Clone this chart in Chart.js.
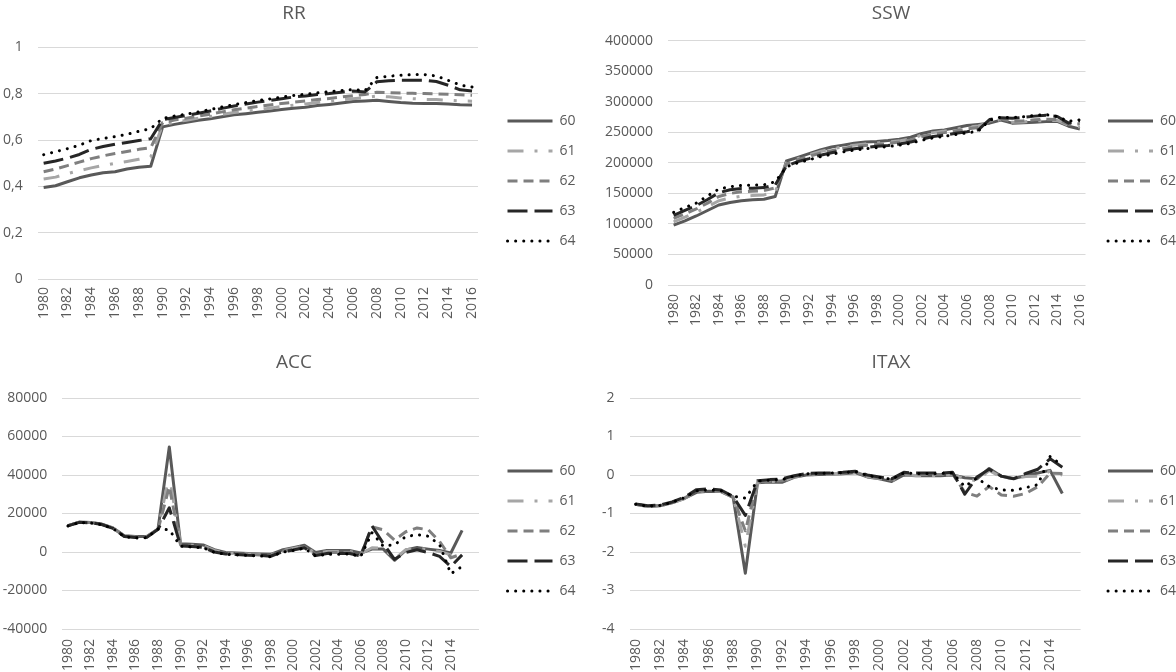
<!DOCTYPE html>
<html>
<head>
<meta charset="utf-8">
<script src="https://cdn.jsdelivr.net/npm/chart.js@4.4.1/dist/chart.umd.min.js"></script>
<style>
  html, body { margin: 0; padding: 0; background: #fff; overflow: hidden; }
  #page { position: relative; width: 1176px; height: 672px; overflow: hidden; background: #fff; }
  .panel { position: absolute; }
</style>
</head>
<body>
<div id="page">
  <div class="panel" style="left:0;top:0;width:588px;height:336px"><canvas id="rr"></canvas></div>
  <div class="panel" style="left:590px;top:0;width:602px;height:336px"><canvas id="ssw"></canvas></div>
  <div class="panel" style="left:0;top:336px;width:588px;height:336px"><canvas id="acc"></canvas></div>
  <div class="panel" style="left:590px;top:336px;width:602px;height:336px"><canvas id="itax"></canvas></div>
</div>
<script>
// categories
const years = ['1980','1981','1982','1983','1984','1985','1986','1987','1988','1989',
  '1990','1991','1992','1993','1994','1995','1996','1997','1998','1999',
  '2000','2001','2002','2003','2004','2005','2006','2007','2008','2009',
  '2010','2011','2012','2013','2014','2015','2016'];
// bottom charts: last category has no label
const yearsBottom = ['1980','1981','1982','1983','1984','1985','1986','1987','1988','1989',
  '1990','1991','1992','1993','1994','1995','1996','1997','1998','1999',
  '2000','2001','2002','2003','2004','2005','2006','2007','2008','2009',
  '2010','2011','2012','2013','2014','2015',''];
const seriesNames = ['60', '61', '62', '63', '64'];

// RR
const rr60 = [0.395,0.403,0.420,0.437,0.449,0.459,0.463,0.475,0.483,0.487,
  0.657,0.668,0.677,0.686,0.692,0.701,0.709,0.714,0.720,0.726,
  0.732,0.738,0.742,0.749,0.754,0.760,0.767,0.769,0.772,0.767,
  0.762,0.759,0.758,0.758,0.756,0.753,0.752];
const rr61 = [0.432,0.440,0.455,0.468,0.480,0.490,0.500,0.508,0.517,0.527,
  0.666,0.677,0.686,0.695,0.702,0.711,0.719,0.725,0.731,0.738,
  0.745,0.751,0.756,0.762,0.767,0.773,0.779,0.784,0.790,0.787,
  0.782,0.779,0.776,0.775,0.772,0.769,0.768];
const rr62 = [0.463,0.475,0.490,0.505,0.520,0.532,0.542,0.551,0.560,0.567,
  0.676,0.687,0.695,0.704,0.712,0.722,0.731,0.738,0.745,0.752,
  0.758,0.764,0.769,0.775,0.780,0.786,0.792,0.797,0.807,0.805,
  0.803,0.802,0.801,0.800,0.798,0.796,0.794];
const rr63 = [0.500,0.510,0.522,0.538,0.560,0.572,0.582,0.590,0.598,0.606,
  0.688,0.698,0.706,0.716,0.726,0.737,0.747,0.756,0.764,0.771,
  0.779,0.786,0.791,0.797,0.801,0.807,0.812,0.808,0.852,0.856,
  0.859,0.859,0.859,0.853,0.837,0.817,0.812];
const rr64 = [0.537,0.550,0.563,0.578,0.598,0.607,0.615,0.625,0.638,0.650,
  0.694,0.704,0.712,0.722,0.732,0.743,0.753,0.762,0.771,0.778,
  0.786,0.793,0.798,0.804,0.809,0.814,0.818,0.814,0.870,0.876,
  0.880,0.883,0.883,0.877,0.858,0.838,0.829];

// SSW
const ssw60 = [98000,105000,113000,122000,131000,135000,138000,139500,140500,145000,
  203000,209000,215000,221000,226000,229000,232000,234000,235000,236500,
  238500,242000,248000,252000,254000,257500,261000,263000,265000,270000,
  265000,265500,266500,267500,268000,260000,255500];
const ssw61 = [103500,111000,119000,128000,138000,142500,145500,146500,147500,152000,
  200500,207000,213000,218500,223000,226000,229000,231000,232500,234000,
  236000,239500,245500,249500,252000,255000,258500,260500,266500,271000,
  266500,267000,268500,269500,269500,261500,258500];
const ssw62 = [109000,116500,124500,134000,145000,150000,152500,153500,154500,159000,
  198000,205000,210500,216000,220000,223500,226500,228500,230000,231500,
  234000,237500,243000,247000,249500,252500,255500,258000,268000,272000,
  268000,269000,270500,271500,271000,263000,264000];
const ssw63 = [114000,122000,130000,140000,151000,156000,158000,158500,159500,164000,
  195000,202000,207000,212500,216500,220000,223000,225000,227000,228500,
  231000,234000,239000,243000,245500,248500,251000,254000,271000,274000,
  273000,274500,276500,278000,276000,265000,269000];
const ssw64 = [119000,127000,134000,146000,157000,161000,163000,163500,164000,169000,
  193500,200000,205000,210000,214000,218000,221000,223000,225000,226500,
  229000,232000,237000,241000,243500,246500,249000,252000,270000,275000,
  274000,275500,277500,279000,276000,268000,270500];

// ACC (1980-2015)
const acc60 = [13700,15500,15300,14500,12500,8500,8000,8000,12000,54600,
  4300,4000,3700,1200,-300,-500,-800,-1000,-1200,1000,
  2200,3500,-300,800,800,800,-500,1500,1500,-4300,
  1000,2300,1500,800,-500,11200];
const acc61 = [13700,15500,15300,14500,12500,8400,7900,7900,11800,40000,
  4000,3500,3200,800,-500,-700,-1000,-1200,-1500,700,
  1800,3000,-800,300,300,300,-1000,2200,2000,-3600,
  1200,2000,1200,300,-1500,-500];
const acc62 = [13700,15500,15300,14400,12400,8300,7800,7800,11600,34000,
  3600,3000,2700,300,-800,-1000,-1300,-1500,-1800,300,
  1400,2600,-1300,-200,-200,-300,-1500,13000,11500,6200,
  10500,12500,11500,5500,-3000,-1000];
const acc63 = [13600,15400,15200,14300,12300,8100,7500,7600,11800,23000,
  3200,2800,2400,0,-1000,-1300,-1700,-1800,-2200,0,
  1000,2200,-1800,-800,-800,-800,-2000,13500,4500,-3800,
  -300,1200,-300,-2300,-7500,-1500];
const acc64 = [13500,15300,15100,14200,12200,8000,7300,7400,12000,11500,
  3000,2600,2200,-200,-1200,-1500,-1800,-2000,-2500,-200,
  800,2000,-2200,-1200,-1200,-1000,-2300,10000,3000,3800,
  8000,9000,8200,3800,-11300,-7500];

// ITAX (1980-2015)
const itax60 = [-0.76,-0.82,-0.80,-0.72,-0.61,-0.45,-0.42,-0.43,-0.58,-2.55,
  -0.20,-0.18,-0.19,-0.06,0.00,0.01,0.02,0.03,0.06,-0.05,
  -0.10,-0.17,0.00,-0.02,-0.02,-0.02,0.00,-0.07,-0.10,0.17,
  -0.03,-0.09,-0.02,0.05,0.12,-0.48];
const itax61 = [-0.76,-0.82,-0.80,-0.72,-0.61,-0.44,-0.41,-0.42,-0.57,-1.85,
  -0.19,-0.17,-0.17,-0.05,0.00,0.02,0.02,0.03,0.07,-0.04,
  -0.09,-0.15,0.01,-0.01,-0.01,-0.01,0.01,-0.10,-0.15,0.12,
  -0.06,-0.10,-0.04,-0.03,0.10,0.00];
const itax62 = [-0.76,-0.81,-0.79,-0.71,-0.60,-0.43,-0.40,-0.41,-0.57,-1.45,
  -0.18,-0.16,-0.15,-0.04,0.01,0.03,0.03,0.04,0.08,-0.03,
  -0.08,-0.13,0.03,0.01,0.01,0.01,0.03,-0.45,-0.55,-0.30,
  -0.52,-0.55,-0.48,-0.30,0.05,0.04];
const itax63 = [-0.75,-0.80,-0.78,-0.70,-0.58,-0.38,-0.36,-0.39,-0.56,-1.05,
  -0.15,-0.12,-0.10,-0.02,0.04,0.05,0.05,0.07,0.10,0.00,
  -0.05,-0.10,0.07,0.05,0.05,0.05,0.07,-0.50,-0.05,0.15,
  -0.03,-0.10,0.04,0.15,0.42,0.20];
const itax64 = [-0.76,-0.81,-0.79,-0.71,-0.59,-0.41,-0.39,-0.41,-0.55,-0.60,
  -0.16,-0.13,-0.12,-0.03,0.03,0.04,0.05,0.06,0.09,-0.01,
  -0.06,-0.11,0.05,0.04,0.04,0.04,0.05,-0.30,-0.08,-0.30,
  -0.39,-0.40,-0.33,-0.25,0.48,0.25];

// y axis ranges: [min, max, step]
const rrRange = [0, 1, 0.2];
const sswRange = [0, 400000, 50000];
const accRange = [-40000, 80000, 20000];
const itaxRange = [-4, 2, 1];

// line styles per series (60..64)
const lineColors = ['#595959', '#a6a6a6', '#7f7f7f', '#262626', '#000000'];
const lineDashes = [[], [16, 11, 3, 11], [10, 6], [20, 7], [0.1, 8]];
const lineCaps = ['butt', 'butt', 'butt', 'butt', 'round'];

const FONT = 'Open Sans';
const TEXT = '#595959';
const LEG_PAD = 16;
const LEG_FONT = 14;
const LEG_W = 60;

// puts the title across the whole panel and the legend where it sits in the original
const placeBoxes = {
  id: 'placeBoxes',
  afterLayout(chart, args, o) {
    const t = chart.titleBlock;
    t.left = 0; t.right = chart.width; t.width = chart.width;
    const lg = chart.legend;
    const h = lg.height;
    const colH = lg.columnSizes[0].height;
    lg.left = o.legendX - LEG_PAD;
    lg.right = chart.width;
    lg.width = lg.right - lg.left;
    lg.top = o.legendY - LEG_FONT / 2 - (LEG_PAD + h - colH) / 2;
    lg.bottom = lg.top + h;
  }
};

function legendItems(chart) {
  return chart.data.datasets.map((ds, i) => ({
    text: ds.label,
    fillStyle: 'rgba(0,0,0,0)',
    strokeStyle: ds.borderColor,
    fontColor: TEXT,
    lineWidth: ds.borderWidth,
    lineDash: ds.borderDash,
    lineCap: ds.borderCapStyle,
    lineJoin: 'round',
    pointStyle: 'line',
    hidden: false,
    datasetIndex: i
  }));
}

function makeChart(id, g, title, labels, series, range, fmt) {
  const datasets = series.map((d, i) => ({
    label: seriesNames[i],
    data: d,
    borderColor: lineColors[i],
    backgroundColor: lineColors[i],
    borderWidth: 3,
    borderDash: lineDashes[i],
    borderCapStyle: lineCaps[i],
    borderJoinStyle: 'round',
    pointRadius: 0,
    tension: 0,
    fill: false,
    order: 4 - i
  }));
  const lh = 19 * 1.2;
  return new Chart(document.getElementById(id), {
    type: 'line',
    data: { labels: labels, datasets: datasets },
    plugins: [placeBoxes],
    options: {
      responsive: true,
      maintainAspectRatio: false,
      animation: false,
      events: [],
      layout: { padding: { left: 0, top: 0, bottom: 0, right: g.w - g.R - LEG_W } },
      plugins: {
        placeBoxes: { legendX: g.legendX, legendY: g.legendY },
        tooltip: { enabled: false },
        title: {
          display: true,
          text: title,
          color: TEXT,
          font: { family: FONT, size: 19, weight: 'normal' },
          padding: { top: g.titleY - lh / 2, bottom: g.T - (g.titleY - lh / 2) - lh }
        },
        legend: {
          position: 'right',
          align: 'center',
          maxWidth: LEG_W,
          labels: {
            usePointStyle: true,
            pointStyle: 'line',
            pointStyleWidth: 45,
            padding: LEG_PAD,
            color: TEXT,
            font: { family: FONT, size: LEG_FONT },
            generateLabels: legendItems
          }
        }
      },
      scales: {
        x: {
          offset: true,
          grid: { display: false, drawTicks: false },
          border: { display: false },
          ticks: {
            autoSkip: false,
            minRotation: 90,
            maxRotation: 90,
            padding: g.xPad,
            color: TEXT,
            font: { family: FONT, size: 14 },
            callback: function (v, i) { return i % 2 === 0 ? this.getLabelForValue(v) : ''; }
          },
          afterFit: s => { s.height = g.h - g.B; }
        },
        y: {
          min: range[0],
          max: range[1],
          grid: { color: '#d9d9d9', lineWidth: 1, drawTicks: false },
          border: { display: false },
          ticks: {
            stepSize: range[2],
            padding: 15,
            color: TEXT,
            font: { family: FONT, size: 14 },
            callback: fmt
          },
          afterFit: s => { s.width = g.L; }
        }
      }
    }
  });
}

const plain = v => String(Math.round(v));
const comma = v => String(Math.round(v * 10) / 10).replace('.', ',');

makeChart('rr', { w: 588, h: 336, L: 37.7, R: 478, T: 47.5, B: 279, titleY: 13.5, xPad: 8, legendX: 507.5, legendY: 121 },
  'RR', years, [rr60, rr61, rr62, rr63, rr64], rrRange, comma);
makeChart('ssw', { w: 602, h: 336, L: 78, R: 495.5, T: 40.7, B: 285, titleY: 13.5, xPad: 9, legendX: 518, legendY: 121 },
  'SSW', years, [ssw60, ssw61, ssw62, ssw63, ssw64], sswRange, plain);
makeChart('acc', { w: 588, h: 336, L: 62.3, R: 479, T: 62, B: 293, titleY: 26.7, xPad: 10, legendX: 507.5, legendY: 135 },
  'ACC', yearsBottom, [acc60, acc61, acc62, acc63, acc64], accRange, plain);
makeChart('itax', { w: 602, h: 336, L: 39.5, R: 490.6, T: 62, B: 293, titleY: 26.7, xPad: 10, legendX: 518, legendY: 135 },
  'ITAX', yearsBottom, [itax60, itax61, itax62, itax63, itax64], itaxRange, plain);
</script>
</body>
</html>
